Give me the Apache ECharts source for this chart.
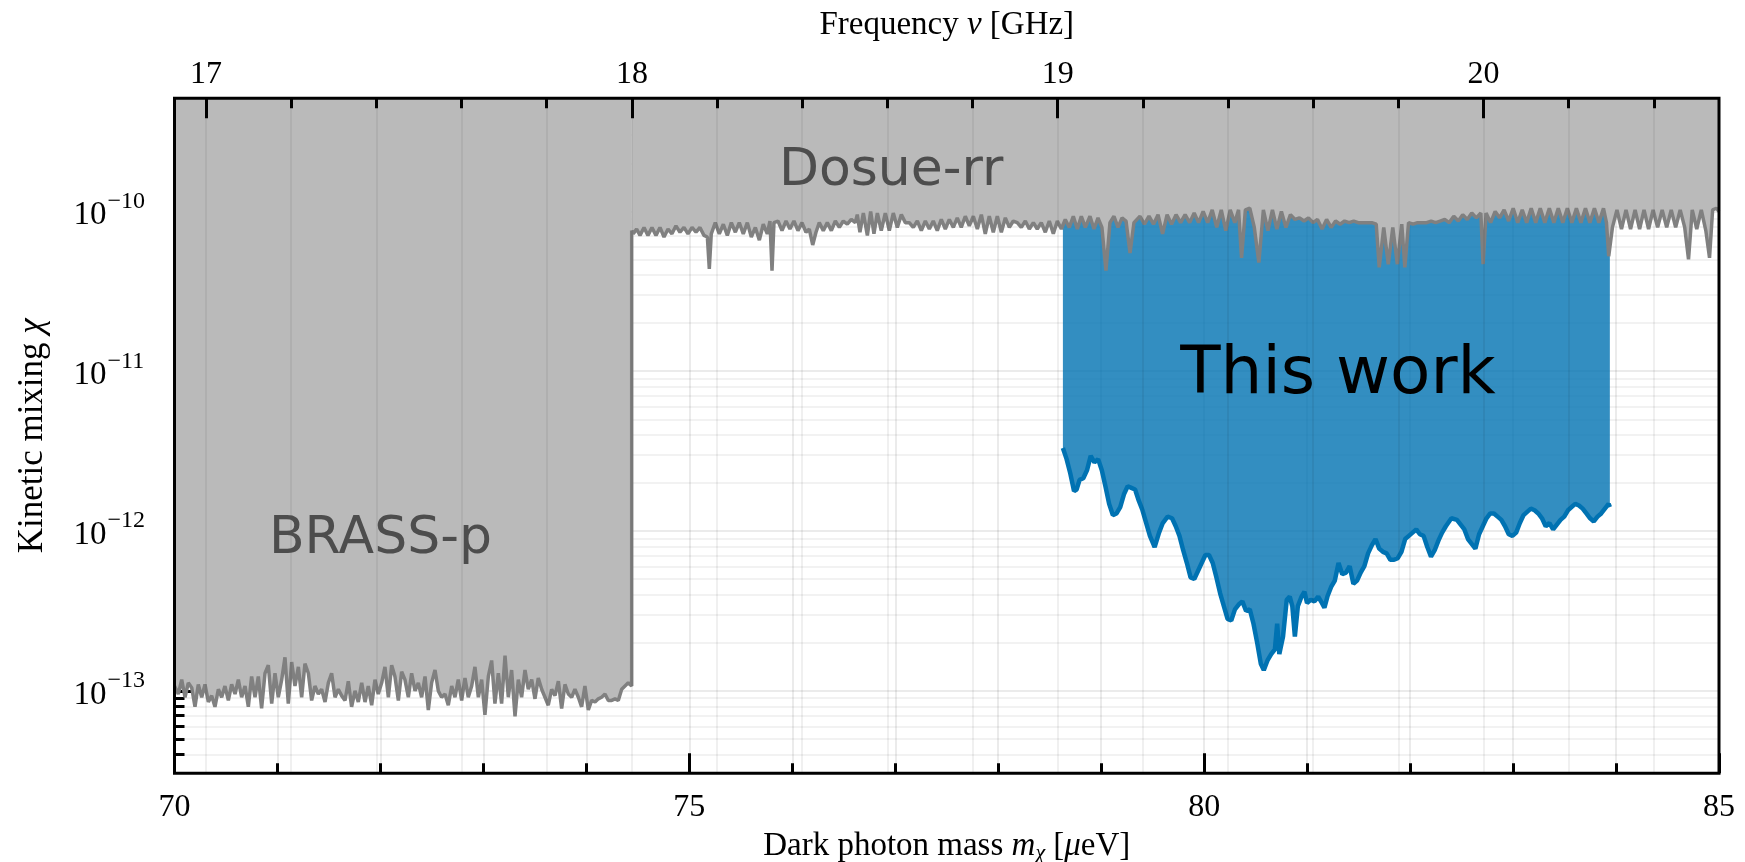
<!DOCTYPE html>
<html>
<head>
<meta charset="utf-8">
<script src="https://cdn.jsdelivr.net/npm/echarts@6/dist/echarts.min.js"></script>
<style>
  html, body { margin: 0; padding: 0; background: #fff; }
  #chart { width: 1745px; height: 862px; }
</style>
</head>
<body>
<div id="chart"></div>
<script>
// mass in µeV, chi stored as log10(chi)
const massRange = [70, 85];
const logChiRange = [-13.516, -9.292];
const H_UEV_PER_GHZ = 4.135667696;

const massMajorStep = 5;
const freqMajorTicks = [17, 18, 19, 20];
const freqMinorTicks = [17.2, 17.4, 17.6, 17.8, 18.2, 18.4, 18.6, 18.8, 19.2, 19.4, 19.6, 19.8, 20.2, 20.4];
const logChiMajorTicks = [-13, -12, -11, -10];

// BRASS-p exclusion limit (lower edge of the excluded band)
const brassCurve = [
  [70.000, -12.97], [70.037, -13.02], [70.070, -12.93], [70.102, -13.04], [70.134, -12.95], [70.167, -12.98],
  [70.199, -13.10], [70.231, -12.96], [70.264, -13.04], [70.296, -12.96], [70.329, -13.07], [70.361, -13.03],
  [70.393, -13.10], [70.426, -12.99], [70.458, -13.04], [70.490, -12.97], [70.523, -13.06], [70.555, -12.96],
  [70.588, -13.02], [70.620, -12.93], [70.652, -13.04], [70.685, -12.97], [70.717, -13.10], [70.749, -12.91],
  [70.782, -13.04], [70.814, -12.91], [70.846, -13.11], [70.879, -12.89], [70.911, -12.84], [70.944, -13.08],
  [70.976, -12.89], [71.008, -13.04], [71.041, -12.93], [71.073, -12.79], [71.105, -13.08], [71.138, -12.82],
  [71.170, -12.97], [71.203, -12.85], [71.235, -13.04], [71.267, -12.83], [71.300, -12.89], [71.332, -13.06],
  [71.364, -12.97], [71.397, -13.02], [71.429, -12.99], [71.462, -13.07], [71.494, -12.95], [71.526, -12.89],
  [71.559, -13.04], [71.591, -12.99], [71.623, -13.03], [71.656, -13.06], [71.688, -12.94], [71.720, -13.10],
  [71.753, -13.00], [71.785, -13.07], [71.818, -12.95], [71.850, -13.07], [71.882, -12.97], [71.915, -13.09],
  [71.947, -12.93], [71.979, -13.02], [72.012, -12.95], [72.044, -12.85], [72.077, -13.04], [72.109, -12.84],
  [72.141, -12.91], [72.174, -13.06], [72.206, -12.88], [72.238, -12.93], [72.271, -13.04], [72.303, -12.89],
  [72.336, -13.00], [72.368, -12.95], [72.400, -13.04], [72.433, -12.91], [72.465, -13.12], [72.497, -12.95],
  [72.530, -12.87], [72.562, -13.00], [72.594, -13.04], [72.627, -13.02], [72.659, -13.09], [72.692, -12.97],
  [72.724, -13.04], [72.756, -12.93], [72.789, -13.06], [72.821, -12.92], [72.853, -13.04], [72.886, -12.97],
  [72.918, -12.85], [72.951, -13.04], [72.983, -12.93], [73.015, -13.15], [73.048, -12.91], [73.080, -12.81],
  [73.112, -13.08], [73.145, -12.89], [73.177, -13.08], [73.210, -12.78], [73.242, -13.04], [73.274, -12.87],
  [73.307, -13.16], [73.339, -12.93], [73.371, -13.04], [73.404, -12.87], [73.436, -12.99], [73.469, -12.93],
  [73.501, -13.05], [73.533, -12.92], [73.566, -12.99], [73.598, -13.04], [73.630, -13.09], [73.663, -12.99],
  [73.695, -13.03], [73.728, -12.94], [73.760, -13.11], [73.792, -12.96], [73.825, -13.02], [73.857, -13.04],
  [73.889, -12.99], [73.922, -13.04], [73.954, -13.10], [73.986, -12.97], [74.019, -13.12], [74.051, -13.06],
  [74.084, -13.07], [74.116, -13.05], [74.148, -13.04], [74.181, -13.02], [74.213, -13.06], [74.246, -13.06],
  [74.278, -13.05], [74.310, -13.06], [74.343, -12.99], [74.375, -12.97], [74.407, -12.95], [74.440, -12.97],
  [74.440, -10.12]
];

// Dosue-rr exclusion limit
const dosueCurve = [
  [74.440, -10.12], [74.456, -10.14], [74.488, -10.11], [74.521, -10.15], [74.560, -10.10], [74.598, -10.15],
  [74.637, -10.10], [74.676, -10.15], [74.715, -10.10], [74.754, -10.16], [74.793, -10.11], [74.831, -10.14],
  [74.870, -10.09], [74.909, -10.13], [74.948, -10.10], [74.987, -10.14], [75.026, -10.10], [75.065, -10.13],
  [75.103, -10.10], [75.142, -10.15], [75.175, -10.16], [75.194, -10.36], [75.213, -10.14], [75.252, -10.07],
  [75.291, -10.14], [75.330, -10.08], [75.369, -10.15], [75.408, -10.07], [75.447, -10.13], [75.485, -10.07],
  [75.524, -10.14], [75.563, -10.07], [75.602, -10.16], [75.641, -10.10], [75.680, -10.18], [75.718, -10.08],
  [75.757, -10.14], [75.783, -10.06], [75.803, -10.37], [75.822, -10.07], [75.861, -10.06], [75.900, -10.12],
  [75.939, -10.06], [75.977, -10.11], [76.016, -10.06], [76.055, -10.12], [76.094, -10.07], [76.133, -10.13],
  [76.165, -10.11], [76.198, -10.21], [76.230, -10.13], [76.262, -10.07], [76.301, -10.12], [76.340, -10.07],
  [76.379, -10.12], [76.418, -10.06], [76.457, -10.10], [76.495, -10.06], [76.534, -10.08], [76.573, -10.05],
  [76.612, -10.07], [76.631, -10.02], [76.657, -10.13], [76.690, -10.01], [76.729, -10.15], [76.761, -10.00],
  [76.793, -10.14], [76.826, -10.01], [76.864, -10.12], [76.903, -10.01], [76.942, -10.12], [76.981, -10.01],
  [77.020, -10.10], [77.059, -10.02], [77.098, -10.07], [77.136, -10.07], [77.175, -10.10], [77.214, -10.06],
  [77.253, -10.12], [77.292, -10.06], [77.331, -10.11], [77.369, -10.06], [77.408, -10.12], [77.447, -10.05],
  [77.486, -10.11], [77.525, -10.05], [77.564, -10.10], [77.602, -10.04], [77.641, -10.10], [77.680, -10.03],
  [77.719, -10.09], [77.758, -10.03], [77.797, -10.11], [77.836, -10.02], [77.874, -10.14], [77.913, -10.03],
  [77.952, -10.13], [77.991, -10.03], [78.030, -10.13], [78.069, -10.04], [78.108, -10.10], [78.146, -10.06],
  [78.185, -10.07], [78.224, -10.10], [78.263, -10.06], [78.302, -10.11], [78.341, -10.07], [78.379, -10.11],
  [78.418, -10.07], [78.457, -10.13], [78.496, -10.06], [78.535, -10.14], [78.574, -10.06], [78.613, -10.11],
  [78.651, -10.05], [78.690, -10.10], [78.729, -10.03], [78.768, -10.11], [78.807, -10.03], [78.846, -10.10],
  [78.891, -10.03], [78.930, -10.11], [78.969, -10.04], [79.007, -10.10], [79.046, -10.37], [79.085, -10.07],
  [79.124, -10.03], [79.163, -10.10], [79.202, -10.04], [79.241, -10.06], [79.280, -10.26], [79.318, -10.07],
  [79.377, -10.03], [79.420, -10.08], [79.464, -10.03], [79.508, -10.08], [79.552, -10.02], [79.596, -10.14],
  [79.640, -10.02], [79.683, -10.08], [79.727, -10.02], [79.771, -10.07], [79.815, -10.02], [79.859, -10.07],
  [79.903, -10.01], [79.946, -10.07], [79.990, -10.00], [80.034, -10.07], [80.078, -9.99], [80.122, -10.10],
  [80.166, -9.99], [80.210, -10.12], [80.253, -9.99], [80.297, -10.07], [80.334, -9.99], [80.363, -10.29],
  [80.400, -9.99], [80.443, -9.98], [80.487, -10.10], [80.531, -10.32], [80.575, -9.99], [80.619, -10.12],
  [80.663, -9.99], [80.706, -10.11], [80.750, -10.00], [80.794, -10.10], [80.838, -10.02], [80.882, -10.05],
  [80.926, -10.04], [80.970, -10.06], [81.013, -10.04], [81.057, -10.07], [81.101, -10.05], [81.145, -10.11],
  [81.189, -10.05], [81.233, -10.10], [81.276, -10.06], [81.320, -10.08], [81.364, -10.06], [81.408, -10.07],
  [81.452, -10.06], [81.496, -10.07], [81.540, -10.07], [81.583, -10.07], [81.627, -10.07], [81.671, -10.08],
  [81.700, -10.35], [81.744, -10.10], [81.788, -10.33], [81.832, -10.10], [81.876, -10.33], [81.919, -10.08],
  [81.949, -10.35], [81.985, -10.07], [82.029, -10.08], [82.073, -10.07], [82.117, -10.07], [82.161, -10.07],
  [82.204, -10.06], [82.248, -10.07], [82.292, -10.06], [82.336, -10.05], [82.380, -10.07], [82.424, -10.03],
  [82.468, -10.06], [82.511, -10.02], [82.555, -10.05], [82.599, -10.01], [82.643, -10.04], [82.687, -10.01],
  [82.709, -10.33], [82.738, -10.01], [82.782, -10.07], [82.826, -10.00], [82.869, -10.04], [82.913, -9.99],
  [82.957, -10.06], [83.001, -9.98], [83.045, -10.07], [83.089, -9.99], [83.132, -10.07], [83.176, -9.98],
  [83.220, -10.07], [83.264, -9.98], [83.308, -10.07], [83.352, -9.98], [83.396, -10.07], [83.439, -9.98],
  [83.483, -10.07], [83.527, -9.98], [83.571, -10.07], [83.615, -9.98], [83.659, -10.07], [83.703, -9.98],
  [83.746, -10.07], [83.790, -9.98], [83.834, -10.07], [83.878, -9.98], [83.907, -10.07], [83.929, -10.28],
  [83.965, -10.10], [84.009, -9.99], [84.053, -10.11], [84.097, -9.99], [84.141, -10.11], [84.185, -9.99],
  [84.229, -10.11], [84.272, -9.99], [84.316, -10.11], [84.360, -9.99], [84.404, -10.10], [84.448, -9.99],
  [84.492, -10.10], [84.536, -9.99], [84.579, -10.10], [84.623, -9.99], [84.667, -10.10], [84.704, -10.30],
  [84.740, -9.99], [84.784, -10.11], [84.828, -9.99], [84.872, -10.12], [84.908, -10.29], [84.938, -9.99],
  [84.974, -9.98], [85.000, -10.00]
];

// This work: exclusion limit
const thisWorkCurve = [
  [78.628, -11.48], [78.664, -11.55], [78.700, -11.64], [78.736, -11.75], [78.761, -11.74], [78.790, -11.68],
  [78.826, -11.67], [78.862, -11.62], [78.898, -11.53], [78.934, -11.57], [78.970, -11.55], [79.006, -11.62],
  [79.041, -11.72], [79.077, -11.83], [79.113, -11.90], [79.149, -11.89], [79.185, -11.85], [79.221, -11.77],
  [79.257, -11.72], [79.293, -11.73], [79.329, -11.74], [79.365, -11.81], [79.401, -11.87], [79.437, -11.95],
  [79.473, -12.03], [79.519, -12.10], [79.562, -12.01], [79.598, -11.95], [79.645, -11.91], [79.688, -11.92],
  [79.724, -11.97], [79.760, -12.03], [79.796, -12.12], [79.832, -12.20], [79.868, -12.29], [79.904, -12.30],
  [79.940, -12.25], [79.976, -12.20], [80.012, -12.15], [80.047, -12.15], [80.083, -12.20], [80.119, -12.29],
  [80.155, -12.39], [80.191, -12.47], [80.227, -12.55], [80.263, -12.56], [80.299, -12.49], [80.335, -12.46],
  [80.371, -12.44], [80.407, -12.50], [80.443, -12.49], [80.479, -12.58], [80.515, -12.70], [80.550, -12.83],
  [80.579, -12.87], [80.615, -12.81], [80.651, -12.77], [80.687, -12.74], [80.709, -12.58], [80.730, -12.77],
  [80.766, -12.66], [80.802, -12.43], [80.831, -12.41], [80.856, -12.47], [80.881, -12.66], [80.910, -12.47],
  [80.946, -12.41], [80.974, -12.38], [80.999, -12.45], [81.035, -12.43], [81.071, -12.44], [81.107, -12.41],
  [81.143, -12.45], [81.168, -12.48], [81.197, -12.41], [81.233, -12.35], [81.269, -12.31], [81.305, -12.20],
  [81.341, -12.27], [81.377, -12.26], [81.413, -12.22], [81.449, -12.33], [81.485, -12.31], [81.520, -12.26],
  [81.556, -12.22], [81.592, -12.14], [81.628, -12.09], [81.664, -12.05], [81.700, -12.11], [81.736, -12.13],
  [81.772, -12.14], [81.808, -12.18], [81.844, -12.18], [81.880, -12.17], [81.916, -12.13], [81.952, -12.05],
  [81.988, -12.03], [82.024, -12.01], [82.060, -11.99], [82.095, -12.02], [82.131, -12.03], [82.167, -12.10],
  [82.203, -12.16], [82.239, -12.12], [82.275, -12.06], [82.311, -12.01], [82.347, -11.97], [82.401, -11.92],
  [82.455, -11.93], [82.491, -11.96], [82.527, -11.99], [82.562, -12.05], [82.598, -12.08], [82.634, -12.11],
  [82.670, -12.02], [82.706, -11.97], [82.742, -11.92], [82.778, -11.89], [82.814, -11.89], [82.850, -11.91],
  [82.886, -11.93], [82.922, -11.97], [82.958, -12.02], [82.994, -12.03], [83.030, -12.01], [83.066, -11.95],
  [83.102, -11.90], [83.137, -11.88], [83.173, -11.86], [83.209, -11.87], [83.245, -11.89], [83.281, -11.92],
  [83.317, -11.97], [83.353, -11.95], [83.389, -11.99], [83.425, -11.96], [83.461, -11.93], [83.497, -11.91],
  [83.533, -11.87], [83.568, -11.85], [83.604, -11.83], [83.640, -11.84], [83.676, -11.86], [83.712, -11.89],
  [83.748, -11.92], [83.784, -11.94], [83.820, -11.91], [83.856, -11.89], [83.892, -11.86], [83.928, -11.83],
  [83.940, -11.85]
];

const annotationTexts = ['Dosue-rr', 'BRASS-p', 'This work'];
const annotationMass = [76.96, 72.00, 81.30];
const annotationLogChi = [-9.75, -12.05, -11.03];

const SERIF = "'Liberation Serif', 'DejaVu Serif', serif";
const SANS = "'DejaVu Sans', 'Noto Sans', sans-serif";

// minor log ticks at k * 10^n
const logChiMinorTicks = [];
for (let n = -14; n <= -10; n++) {
  for (let k = 2; k <= 9; k++) {
    const v = n + Math.log10(k);
    if (v > logChiRange[0] && v < logChiRange[1]) logChiMinorTicks.push(v);
  }
}

const freqRange = massRange.map(m => m / H_UEV_PER_GHZ);

const tickStyle = { color: '#000', width: 3 };
const gridMajor = { color: 'rgba(0,0,0,0.08)', width: 2 };
const gridMinor = { color: 'rgba(0,0,0,0.05)', width: 2 };
const gridOver = { color: 'rgba(0,0,0,0.06)', width: 2 };
const nameRich = {
  i: { fontFamily: SERIF, fontSize: 33, fontStyle: 'italic', color: '#000' },
  sub: { fontFamily: SERIF, fontSize: 22, fontStyle: 'italic', color: '#000', verticalAlign: 'bottom', padding: [14, 0, 0, 0] }
};

const chart = echarts.init(document.getElementById('chart'));

const annotationStyles = [
  { fontSize: 52, color: '#4d4d4d' },
  { fontSize: 52, color: '#4d4d4d' },
  { fontSize: 66, color: '#000000' }
];

const hiddenY = {
  type: 'value', position: 'left',
  min: logChiRange[0], max: logChiRange[1],
  axisLine: { show: false, onZero: false }
};

const option = {
  animation: false,
  backgroundColor: '#fff',
  grid: {
    left: 174.5, right: 26, top: 98.3, bottom: 88.7,
    outerBoundsMode: 'none', containLabel: false,
    show: true, borderColor: '#000', borderWidth: 3,
    backgroundColor: 'transparent', z: 10
  },
  xAxis: [
    {
      type: 'value', position: 'bottom',
      min: massRange[0], max: massRange[1], interval: massMajorStep,
      axisLine: { show: false, onZero: false },
      axisTick: { inside: true, length: 20, lineStyle: tickStyle },
      minorTick: { show: true, splitNumber: 5, length: 10, lineStyle: tickStyle },
      axisLabel: { fontFamily: SERIF, fontSize: 32, color: '#000', margin: 18 },
      splitLine: { show: true, lineStyle: gridMajor },
      minorSplitLine: { show: true, lineStyle: gridMajor },
      name: 'Dark photon mass {i|m}{sub|χ} [{i|μ}eV]',
      nameLocation: 'middle', nameGap: 55,
      nameTextStyle: { fontFamily: SERIF, fontSize: 33, color: '#000', rich: nameRich }
    },
    {
      type: 'value', position: 'top',
      min: freqRange[0], max: freqRange[1],
      axisLine: { show: false, onZero: false },
      axisTick: { inside: true, length: 20, lineStyle: tickStyle, customValues: freqMajorTicks },
      axisLabel: { fontFamily: SERIF, fontSize: 32, color: '#000', margin: 8, customValues: freqMajorTicks },
      splitLine: { show: true, lineStyle: gridOver },
      name: 'Frequency {i|ν} [GHz]',
      nameLocation: 'middle', nameGap: 56,
      nameTextStyle: { fontFamily: SERIF, fontSize: 33, color: '#000', rich: nameRich },
      z: 5
    },
    {
      type: 'value', position: 'top',
      min: freqRange[0], max: freqRange[1],
      axisLine: { show: false, onZero: false },
      axisTick: { inside: true, length: 10, lineStyle: tickStyle, customValues: freqMinorTicks },
      axisLabel: { show: false },
      splitLine: { show: true, lineStyle: gridOver },
      z: 5
    }
  ],
  yAxis: [
    Object.assign({}, hiddenY, {
      axisTick: { inside: true, length: 20, lineStyle: tickStyle, customValues: logChiMajorTicks },
      // mantissa "10" of the decade labels
      axisLabel: {
        customValues: logChiMajorTicks, margin: 68, align: 'right',
        verticalAlign: 'top', lineHeight: 8,
        fontFamily: SERIF, fontSize: 33, color: '#000',
        formatter: () => '10'
      },
      splitLine: { show: true, lineStyle: gridMajor },
      name: 'Kinetic mixing {i|χ}',
      nameLocation: 'middle', nameRotate: 90, nameGap: 124,
      nameTextStyle: { fontFamily: SERIF, fontSize: 35, color: '#000', rich: {
        i: { fontFamily: SERIF, fontSize: 35, fontStyle: 'italic', color: '#000' }
      } }
    }),
    Object.assign({}, hiddenY, {
      axisTick: { inside: true, length: 10, lineStyle: tickStyle, customValues: logChiMinorTicks },
      axisLabel: { show: false },
      splitLine: { show: true, lineStyle: gridMinor }
    }),
    Object.assign({}, hiddenY, {
      axisTick: { show: false },
      // exponent of the decade labels
      axisLabel: {
        customValues: logChiMajorTicks, margin: 67, align: 'left',
        verticalAlign: 'bottom', lineHeight: 20,
        fontFamily: SERIF, fontSize: 24, color: '#000',
        formatter: v => '\u2212' + Math.round(-v)
      },
      splitLine: { show: false }
    })
  ],
  series: [
    {
      name: 'This work', type: 'line', xAxisIndex: 0, yAxisIndex: 0,
      data: thisWorkCurve, symbol: 'none', silent: true,
      lineStyle: { color: '#0072b2', width: 4.5 },
      areaStyle: { origin: 'end', color: 'rgba(0,114,178,0.8)', opacity: 1 },
      z: 2
    },
    {
      name: 'BRASS-p', type: 'line', xAxisIndex: 0, yAxisIndex: 0,
      data: brassCurve, symbol: 'none', silent: true,
      lineStyle: { color: '#808080', width: 3.5 },
      areaStyle: { origin: 'end', color: '#bababa', opacity: 1 },
      z: 3
    },
    {
      name: 'Dosue-rr', type: 'line', xAxisIndex: 0, yAxisIndex: 0,
      data: dosueCurve, symbol: 'none', silent: true,
      lineStyle: { color: '#808080', width: 3.5 },
      areaStyle: { origin: 'end', color: '#bababa', opacity: 1 },
      z: 3
    },
    {
      name: 'labels', type: 'scatter', xAxisIndex: 0, yAxisIndex: 0,
      symbolSize: 1, silent: true,
      itemStyle: { color: 'transparent' },
      data: annotationTexts.map((t, i) => ({
        name: t,
        value: [annotationMass[i], annotationLogChi[i]],
        label: Object.assign({
          show: true, position: 'inside', formatter: '{b}', fontFamily: SANS,
          textBorderWidth: 0, opacity: 1
        }, annotationStyles[i])
      })),
      z: 12
    }
  ]
};

chart.setOption(option);
</script>
</body>
</html>
